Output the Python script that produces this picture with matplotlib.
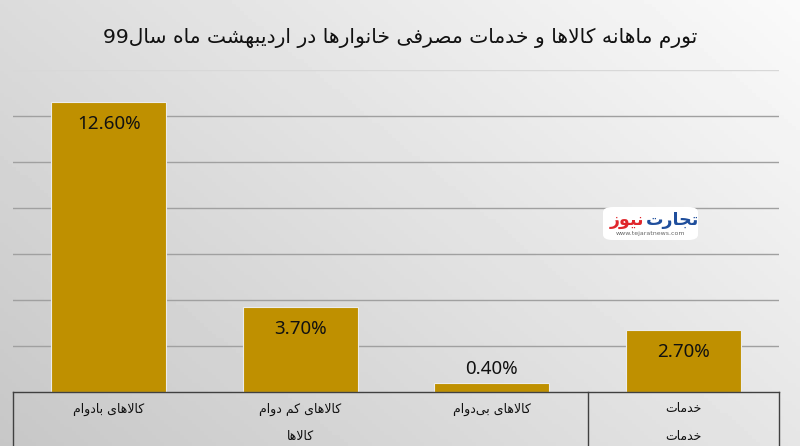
import re
import numpy as np
import matplotlib
matplotlib.use('Agg')
import matplotlib.pyplot as plt
from matplotlib.patches import FancyBboxPatch
from matplotlib.lines import Line2D

title = 'تورم ماهانه کالاها و خدمات مصرفی خانوارها در اردیبهشت ماه سال99'
categories = ['کالاهای بادوام', 'کالاهای کم دوام', 'کالاهای بی\u200cدوام', 'خدمات']
groups = ['کالاها', 'خدمات']
group_pos = [1, 3]
values = [12.6, 3.7, 0.4, 2.7]
value_labels = ['12.60%', '3.70%', '0.40%', '2.70%']
grid_ticks = [2, 4, 6, 8, 10, 12, 14]

# arabic shaping by hand: (isolated, final, initial, medial)
FORMS = {
    '\u0627': ('\uFE8D', '\uFE8E', None, None),
    '\u0628': ('\uFE8F', '\uFE90', '\uFE91', '\uFE92'),
    '\u062A': ('\uFE95', '\uFE96', '\uFE97', '\uFE98'),
    '\u062C': ('\uFE9D', '\uFE9E', '\uFE9F', '\uFEA0'),
    '\u062E': ('\uFEA5', '\uFEA6', '\uFEA7', '\uFEA8'),
    '\u062F': ('\uFEA9', '\uFEAA', None, None),
    '\u0631': ('\uFEAD', '\uFEAE', None, None),
    '\u0632': ('\uFEAF', '\uFEB0', None, None),
    '\u0633': ('\uFEB1', '\uFEB2', '\uFEB3', '\uFEB4'),
    '\u0634': ('\uFEB5', '\uFEB6', '\uFEB7', '\uFEB8'),
    '\u0635': ('\uFEB9', '\uFEBA', '\uFEBB', '\uFEBC'),
    '\u0641': ('\uFED1', '\uFED2', '\uFED3', '\uFED4'),
    '\u0644': ('\uFEDD', '\uFEDE', '\uFEDF', '\uFEE0'),
    '\u0645': ('\uFEE1', '\uFEE2', '\uFEE3', '\uFEE4'),
    '\u0646': ('\uFEE5', '\uFEE6', '\uFEE7', '\uFEE8'),
    '\u0647': ('\uFEE9', '\uFEEA', '\uFEEB', '\uFEEC'),
    '\u0648': ('\uFEED', '\uFEEE', None, None),
    '\u06CC': ('\uFBFC', '\uFBFD', '\uFBFE', '\uFBFF'),
    '\u06A9': ('\uFB8E', '\uFB8F', '\uFB90', '\uFB91'),
    '\uFEFB': ('\uFEFB', '\uFEFC', None, None),
}


def fa(text):
    s = text.replace('\u0644\u0627', '\uFEFB')
    out = []
    for i, c in enumerate(s):
        if c not in FORMS:
            out.append(c)
            continue
        prev = s[i - 1] if i > 0 else None
        nxt = s[i + 1] if i + 1 < len(s) else None
        p = prev in FORMS and FORMS[prev][2] is not None
        n = nxt in FORMS and FORMS[c][2] is not None
        f = FORMS[c]
        if p and n:
            out.append(f[3])
        elif p:
            out.append(f[1])
        elif n:
            out.append(f[2])
        else:
            out.append(f[0])
    s = ''.join(out).replace('\u200c', '')
    s = s[::-1]
    return re.sub(r'[0-9.%]+', lambda m: m.group(0)[::-1], s)


W, H = 800, 446
fig = plt.figure(figsize=(8, 4.46), dpi=100)

# gradient background
bg = fig.add_axes([0, 0, 1, 1], zorder=-10)
gx, gy = np.meshgrid(np.linspace(0, 1, 200), np.linspace(1, 0, 120))
g = 0.78 + 0.12 * gx + 0.08 * gy
bg.imshow(g, cmap='gray', vmin=0, vmax=1, aspect='auto', extent=[0, 1, 0, 1])
bg.axis('off')

left, right, top, bottom = 13, 779, 70, 392
ax = fig.add_axes([left / W, 1 - bottom / H, (right - left) / W, (bottom - top) / H])
ax.patch.set_visible(False)
x = np.arange(len(values))
for t in grid_ticks:
    ax.axhline(t, color='#d8d8d8' if t == grid_ticks[-1] else '#a0a0a0',
               lw=1.0, zorder=1)
bars = ax.bar(x, values, width=0.6, color='#BF9000', edgecolor='#ececec',
              linewidth=0.8, zorder=2)
ax.set_xlim(-0.5, 3.5)
ax.set_ylim(0, 14)
for s in ax.spines.values():
    s.set_visible(False)
ax.set_xticks([])
ax.set_yticks([])

for rect, v, lab in zip(bars, values, value_labels):
    off = -16 if v > 1 else 10
    ax.annotate(lab, xy=(rect.get_x() + rect.get_width() / 2, v),
                xytext=(0, off), textcoords='offset points',
                ha='center', va='center', fontsize=13.5, family='Noto Sans',
                color='#111111', zorder=3)

# category table
depth = -60 / (bottom - top)
lc = '#404040'
ax.add_line(Line2D([0, 1], [0, 0], transform=ax.transAxes, color=lc, lw=1, clip_on=False))
for xf in [0, 0.75, 1]:
    ax.add_line(Line2D([xf, xf], [0, depth], transform=ax.transAxes, color=lc,
                       lw=1, clip_on=False))
tr = ax.get_xaxis_transform()
for xi, cat in zip(x, categories):
    ax.text(xi, -17 / (bottom - top), fa(cat), transform=tr, ha='center',
            va='center', fontsize=9, family='DejaVu Sans', color='#111111')
for xi, gname in zip(group_pos, groups):
    ax.text(xi, -45 / (bottom - top), fa(gname), transform=tr, ha='center',
            va='center', fontsize=9, family='DejaVu Sans', color='#111111')

fig.text(0.5, 1 - 38 / H, fa(title), ha='center', va='center', fontsize=14.6,
         family='DejaVu Sans', color='#111111')

# watermark logo
box = FancyBboxPatch((603 / W, 1 - 240 / H), 95 / W, 33 / H,
                     boxstyle='round,pad=0,rounding_size=0.012',
                     transform=fig.transFigure, facecolor='white', edgecolor='none')
fig.patches.append(box)
fig.text(646 / W, 1 - 220 / H, fa('تجارت'), ha='left', va='center', fontsize=12.5,
         fontweight='bold', color='#1f4e9c', family='DejaVu Sans')
fig.text(644 / W, 1 - 220 / H, fa('نیوز'), ha='right', va='center', fontsize=12.5,
         fontweight='bold', color='#e0262b', family='DejaVu Sans')
fig.text(650 / W, 1 - 234 / H, 'www.tejaratnews.com', ha='center', va='center',
         fontsize=4.5, color='#666666', family='DejaVu Sans')

plt.savefig('out.png', dpi=100)
